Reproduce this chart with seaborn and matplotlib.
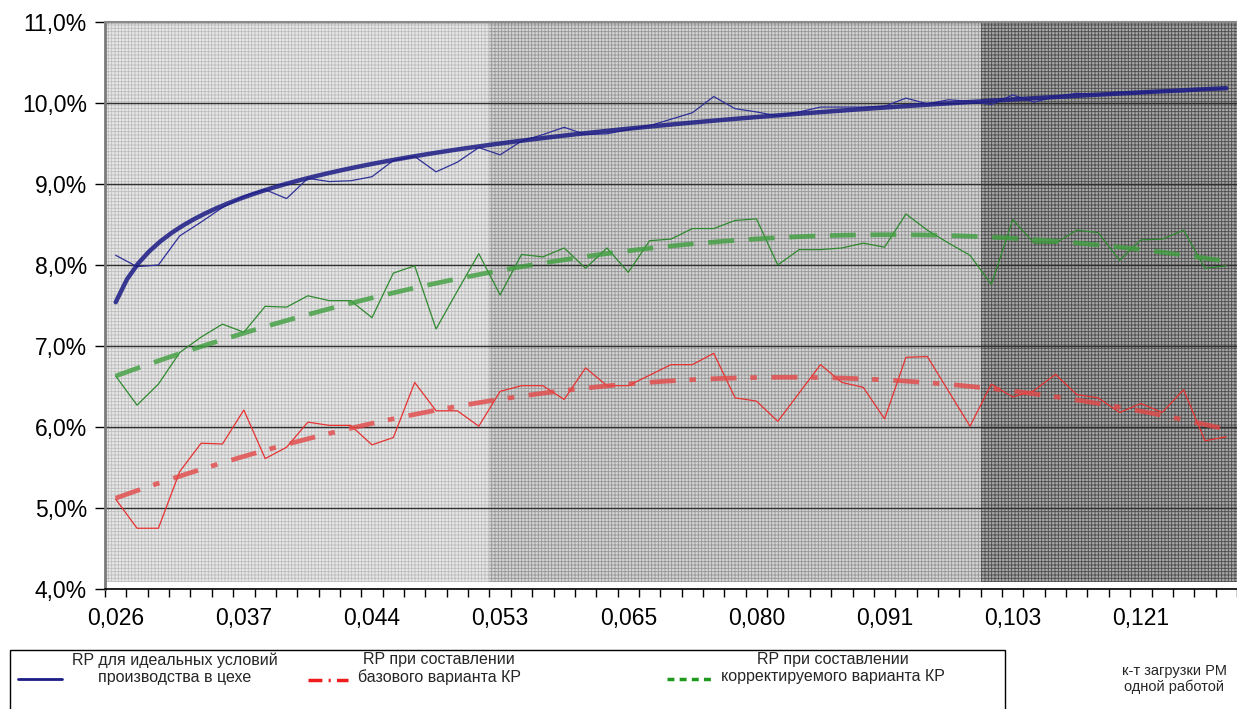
import matplotlib
matplotlib.use('Agg')
import matplotlib.pyplot as plt
import seaborn as sns
import pandas as pd
import numpy as np
from matplotlib.lines import Line2D
from matplotlib.patches import Rectangle

# RP values, % (one value per load-factor step)
blue = [8.12, 7.98, 8.00, 8.36, 8.53, 8.71, 8.85, 8.93, 8.82, 9.07,
        9.03, 9.04, 9.09, 9.29, 9.34, 9.15, 9.27, 9.45, 9.36, 9.53,
        9.61, 9.70, 9.61, 9.62, 9.67, 9.72, 9.80, 9.88, 10.08, 9.93,
        9.89, 9.84, 9.89, 9.95, 9.95, 9.95, 9.96, 10.06, 9.99, 10.04,
        10.02, 9.98, 10.10, 10.01, 10.08, 10.12, 10.10, 10.13, 10.12, 10.15,
        10.14, 10.17, 10.18]
red = [5.11, 4.75, 4.75, 5.45, 5.80, 5.79, 6.21, 5.61, 5.75, 6.06,
       6.02, 6.02, 5.78, 5.87, 6.55, 6.20, 6.20, 6.01, 6.44, 6.51,
       6.51, 6.34, 6.73, 6.51, 6.51, 6.64, 6.77, 6.77, 6.91, 6.36,
       6.32, 6.07, 6.42, 6.77, 6.55, 6.49, 6.10, 6.86, 6.87, 6.44,
       6.01, 6.53, 6.37, 6.45, 6.65, 6.40, 6.36, 6.18, 6.29, 6.18,
       6.46, 5.83, 5.88]
green = [6.63, 6.27, 6.53, 6.92, 7.11, 7.27, 7.17, 7.49, 7.48, 7.62,
         7.56, 7.56, 7.35, 7.90, 7.99, 7.21, 7.68, 8.14, 7.63, 8.13,
         8.10, 8.21, 7.96, 8.21, 7.91, 8.30, 8.32, 8.45, 8.45, 8.55,
         8.57, 8.00, 8.19, 8.19, 8.21, 8.27, 8.22, 8.63, 8.43, 8.27,
         8.12, 7.76, 8.56, 8.27, 8.27, 8.43, 8.40, 8.06, 8.31, 8.32,
         8.43, 7.96, 7.99]

x_labels = ['0,026', '0,037', '0,044', '0,053', '0,065', '0,080', '0,091', '0,103', '0,121']
label_step = 6
zone_sizes = [18, 23, 12]
y_ticks = [4, 5, 6, 7, 8, 9, 10, 11]

names = ['RP для идеальных условий\nпроизводства в цехе',
         'RP при составлении\nбазового варианта КР',
         'RP при составлении\nкорректируемого варианта КР']

sns.set_theme(style='white')
plt.rcParams['font.family'] = ['Liberation Sans', 'DejaVu Sans']
plt.rcParams['hatch.linewidth'] = 0.6

n = len(blue)
k = np.arange(1, n + 1)
df = pd.DataFrame({'k': np.tile(k, 3),
                   'rp': blue + red + green,
                   'series': np.repeat(names, n)})

fig = plt.figure(figsize=(12.37, 7.09), dpi=100)
ax = fig.add_axes([105 / 1237, 120 / 709, 1 - 105 / 1237, 567 / 709])

# shaded zones with fine grid pattern
zone_style = [('#e8e8e8', '#bdbdbd'), ('#d4d4d4', '#969696'), ('#a6a6a6', '#4c4c4c')]
edges = np.concatenate([[0.5], 0.5 + np.cumsum(zone_sizes)])
for x0, x1, (fc, hc) in zip(edges[:-1], edges[1:], zone_style):
    ax.axvspan(x0, x1, ymin=0.012, facecolor=fc, edgecolor=hc, hatch='+++++', lw=0, zorder=0)

thin = {names[0]: '#30309a', names[1]: '#e83232', names[2]: '#2f8a2f'}
sns.lineplot(data=df, x='k', y='rp', hue='series', palette=thin, lw=0.9,
             legend=False, ax=ax, zorder=3)

# trend lines
sns.regplot(x=k, y=np.array(blue), logx=True, scatter=False, ci=None, ax=ax,
            line_kws=dict(color='#1c1c86', lw=3.2, alpha=0.85, zorder=4))
sns.regplot(x=k, y=np.array(red), order=2, scatter=False, ci=None, ax=ax,
            line_kws=dict(color='#e54848', lw=3.4, alpha=0.8, zorder=4,
                          dashes=(5.5, 2.9, 1.4, 3.1)))
sns.regplot(x=k, y=np.array(green), order=2, scatter=False, ci=None, ax=ax,
            line_kws=dict(color='#3f9f3f', lw=3.4, alpha=0.8, zorder=4,
                          dashes=(5.5, 3.1)))

ax.set_xlim(0.5, 0.5 + (1237 - 105) / 21.5)
ax.set_ylim(4, 11)
ax.set_xlabel('')
ax.set_ylabel('')
ax.set_yticks(y_ticks)
ax.set_yticklabels([f'{v:.1f}%'.replace('.', ',') for v in y_ticks], fontsize=16.5)
ax.set_xticks(k[::label_step][:len(x_labels)])
ax.set_xticklabels(x_labels, fontsize=16.5)
ax.set_xticks(np.arange(0.5, n + 1), minor=True)
ax.tick_params(axis='x', which='major', length=0, pad=13, colors='black')
ax.tick_params(axis='x', which='minor', length=6, width=1, color='black', bottom=True)
ax.tick_params(axis='y', length=7, width=1, color='black', pad=6, left=True, labelcolor='black')
ax.yaxis.grid(True, color='#303030', lw=1)
ax.xaxis.grid(False)
ax.spines['left'].set_color('#7a7a7a')
ax.spines['left'].set_linewidth(2)
ax.spines['top'].set_color('#8a8a8a')
ax.spines['top'].set_linewidth(1.5)
ax.spines['bottom'].set_color('black')
ax.spines['bottom'].set_linewidth(1.2)
ax.spines['right'].set_visible(False)

# legend: boxed row of three entries
fig.patches.append(Rectangle((10 / 1237, -0.02), 995 / 1237, 59 / 709 + 0.02,
                             transform=fig.transFigure, fill=False,
                             edgecolor='black', lw=1))
handles = [Line2D([], [], color='#1c1c86', lw=2),
           Line2D([], [], color='#ee1c1c', lw=2.5, dashes=(4, 1.8, 0.6, 1.8)),
           Line2D([], [], color='#1f9a1f', lw=2.5, dashes=(2.0, 1.5))]
starts = [18, 308, 667]
hlens = [2.75, 2.5, 2.75]
for h, name, x0, hl in zip(handles, names, starts, hlens):
    leg = fig.legend([h], [name], loc='upper left', bbox_to_anchor=(x0 / 1237, 1 - 652 / 709),
                     frameon=False, fontsize=11.5, borderpad=0, borderaxespad=0,
                     handlelength=hl, handletextpad=0.6)
    for t in leg.get_texts():
        t.set_multialignment('center')
    # put the key next to the lower text line
    for col in leg._legend_handle_box.get_children():
        for item in col.get_children():
            item.align = 'bottom'

fig.text(1174 / 1237, 1 - 679 / 709, 'к-т загрузки РМ\nодной работой',
         ha='center', va='center', fontsize=10.5, multialignment='center')

fig.savefig('out.png', dpi=100)
